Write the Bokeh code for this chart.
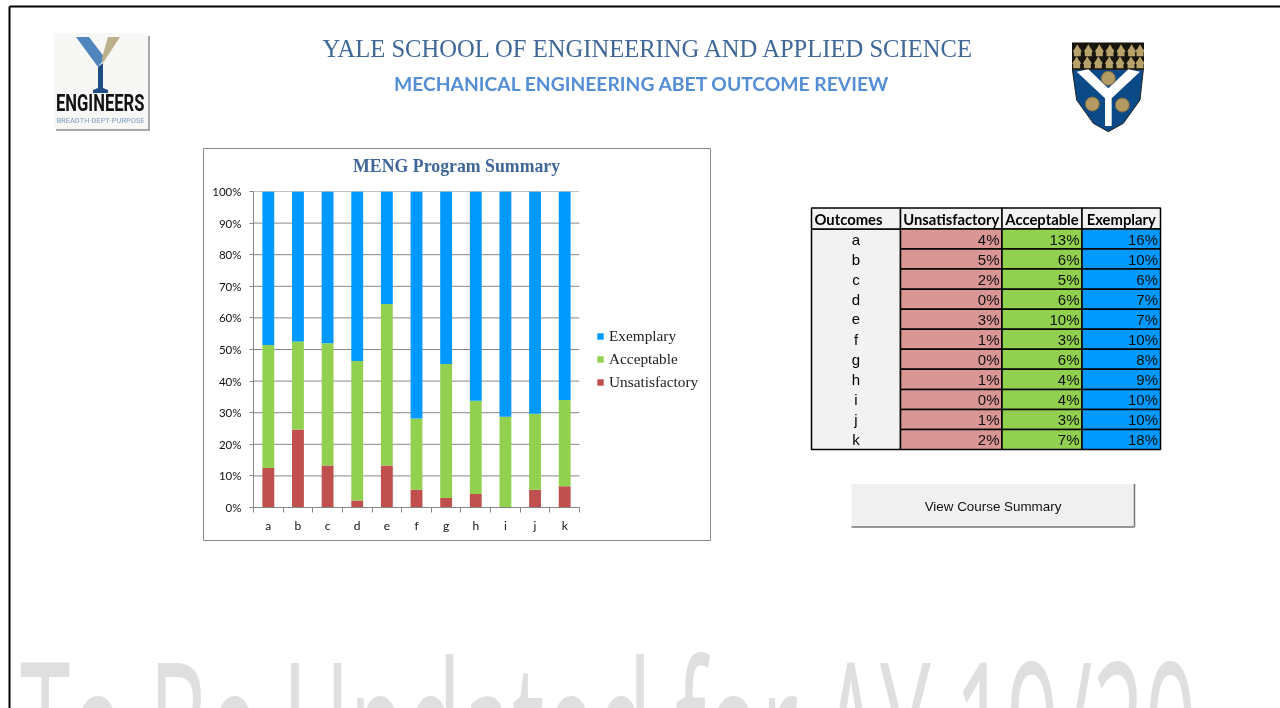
from bokeh.plotting import figure
from bokeh.models import Range1d, LinearAxis, FixedTicker, Legend, LegendItem, Div, ColumnDataSource
from bokeh.core.properties import value
from bokeh.embed import file_html
from bokeh.resources import INLINE

categories = ["a", "b", "c", "d", "e", "f", "g", "h", "i", "j", "k"]
share_unsatisfactory = [12.5, 24.7, 13.3, 2.2, 13.3, 5.6, 3.0, 4.3, 0.0, 5.6, 6.7]
share_acceptable = [38.9, 27.8, 38.7, 44.2, 51.1, 22.6, 42.4, 29.5, 28.7, 24.1, 27.3]
share_exemplary = [48.6, 47.5, 48.0, 53.6, 35.6, 71.8, 54.6, 66.2, 71.3, 70.3, 66.0]
y_ticks = [0, 10, 20, 30, 40, 50, 60, 70, 80, 90, 100]

table_headers = ["Outcomes", "Unsatisfactory", "Acceptable", "Exemplary"]
table_unsat = [4, 5, 2, 0, 3, 1, 0, 1, 0, 1, 2]
table_accept = [13, 6, 5, 6, 10, 3, 6, 4, 4, 3, 7]
table_exemp = [16, 10, 6, 7, 7, 10, 8, 9, 10, 10, 18]

title_main = "YALE SCHOOL OF ENGINEERING AND APPLIED SCIENCE"
title_sub = "MECHANICAL ENGINEERING ABET OUTCOME REVIEW"
chart_title = "MENG Program Summary"
button_text = "View Course Summary"
watermark = "To Be Updated for AY 19/20"

RED, GREEN, BLUE = "#C0504D", "#92D050", "#0099FF"
NAVY = "#3F6797"
GRAY = "#868686"

# ---------- page background figure, in page pixels ----------
bg = figure(width=1280, height=708, x_range=Range1d(0.5, 1280.5), y_range=Range1d(708.5, 0.5),
            output_backend="svg", toolbar_location=None, min_border=0,
            x_axis_location=None, y_axis_location=None, outline_line_color=None,
            styles={"position": "fixed", "left": "0px", "top": "0px"})
bg.grid.visible = False
bg.segment([9.5, 9.5], [6.5, 6.5], [9.5, 1280.5], [708.5, 6.5], line_color="black", line_width=2)


def txt(x, y, s, size, color="black", font="Liberation Sans", style="normal", align="center"):
    bg.text([x], [y], text=[s], text_font=value(font), text_font_size=f"{size}px",
            text_font_style=style, text_color=color, text_align=align, text_baseline="middle")


txt(649, 48, title_main, 24.6, NAVY, "Liberation Serif")
txt(642, 83.5, title_sub, 19.3, "#558ED5", "Lato", "bold")

# chart box
bg.quad([203.5], [710.5], [148.5], [540.5], fill_color="white", line_color=GRAY, line_width=1)

# left logo
bg.quad([56], [150], [36], [131], fill_color="#a8a8a8", line_color=None)
bg.quad([54], [148], [33], [129], fill_color="#f7f7f5", line_color=None)
bg.patch([76, 89, 105, 98], [37, 37, 58, 67], fill_color="#4F86BE", line_color=None)
bg.patch([108, 120, 103, 102], [37, 37, 63, 58], fill_color="#BDB08C", line_color=None)
bg.patch([98, 103, 103, 108, 108, 93, 93, 98], [67, 63, 88, 90, 93, 93, 90, 88], fill_color="#1F4E86", line_color=None)
txt(100.5, 120, "BREADTH·DEPT·PURPOSE", 7.5, "#7D9CC0", "Roboto")

# right shield
def sx(v):
    return [1060 + a / 3 for a in v]
def sy(v):
    return [30 + a / 3 for a in v]

bg.patch(sx([37, 250, 250, 240, 190, 145, 100, 50, 37]), sy([118, 118, 118, 210, 280, 305, 280, 210, 118]),
         fill_color="#0B4A87", line_color="#222222", line_width=1)
bg.quad([1072], [1144], [42.5], [69.5], fill_color="#17130D", line_color=None)
bell_x_top = [52, 85, 118, 150, 183, 215, 240]
bell_x_low = [50, 82, 115, 148, 180, 213, 240]
bg.scatter(sx(bell_x_top), sy([58] * 7), marker="triangle", size=9, fill_color="#B8A26B", line_color=None)
bg.scatter(sx(bell_x_top), sy([68] * 7), marker="square", size=7, fill_color="#B8A26B", line_color=None)
bg.scatter(sx(bell_x_low), sy([94] * 7), marker="triangle", size=9, fill_color="#B8A26B", line_color=None)
bg.scatter(sx(bell_x_low), sy([104] * 7), marker="square", size=7, fill_color="#B8A26B", line_color=None)
bg.patch(sx([50, 85, 145, 205, 240, 155, 155, 135, 135]), sy([125, 118, 175, 118, 125, 205, 288, 288, 205]),
         fill_color="white", line_color=None)
bg.scatter(sx([145, 97, 187]), sy([145, 222, 225]), marker="circle", size=14, fill_color="#B39B63",
           line_color="#7d6c40")

# table
col_x = [811.5, 900.5, 1002, 1082, 1160.5]
head_top, head_bot, row_h = 208, 229, 20.05
n = len(categories)
row_top = [head_bot + i * row_h for i in range(n)]
row_bot = [t + row_h for t in row_top]
row_mid = [(a + b) / 2 for a, b in zip(row_top, row_bot)]
bg.quad([col_x[0]], [col_x[1]], [head_bot], [row_bot[-1]], fill_color="#F2F2F2", line_color="black", line_width=1.5)
for j, h in enumerate(table_headers):
    bg.quad([col_x[j]], [col_x[j + 1]], [head_top], [head_bot], fill_color="#F2F2F2", line_color="black", line_width=1.5)
    if j == 0:
        txt(col_x[0] + 3, 219, h, 14.8, "black", "Lato", "bold", "left")
    else:
        txt((col_x[j] + col_x[j + 1]) / 2, 219, h, 14.8, "black", "Lato", "bold")
bg.text([856] * n, row_mid, text=categories, text_font=value("Liberation Sans"), text_font_size="15px",
        text_align="center", text_baseline="middle", text_color="black")
for j, (vals, colr) in enumerate(zip([table_unsat, table_accept, table_exemp], ["#D99694", GREEN, BLUE]), start=1):
    bg.quad([col_x[j]] * n, [col_x[j + 1]] * n, row_top, row_bot, fill_color=colr, line_color="black", line_width=1.5)
    bg.text([col_x[j + 1] - 2.5] * n, row_mid, text=[f"{v}%" for v in vals],
            text_font=value("Liberation Sans"), text_font_size="15px",
            text_align="right", text_baseline="middle", text_color="#111111")

# button
bg.quad([851.5], [1134.5], [484], [527], fill_color="#F0F0F0", line_color=None)
bg.segment([1134.5, 851.5], [484, 527], [1134.5, 1134.5], [527, 527], line_color="#777777", line_width=1.5)
txt(993, 506.5, button_text, 13.4, "#111111", "Liberation Sans")

# ---------- the stacked chart ----------
xs = [i + 0.5 for i in range(n)]
src = ColumnDataSource(dict(x=xs, Unsatisfactory=share_unsatisfactory, Acceptable=share_acceptable,
                            Exemplary=share_exemplary))
p = figure(frame_width=326, frame_height=316, x_range=Range1d(0, n), y_range=Range1d(0, 100),
           output_backend="svg", toolbar_location=None,
           x_axis_location=None, y_axis_location=None,
           min_border_left=49, min_border_right=131, min_border_top=42, min_border_bottom=32,
           outline_line_color=None, border_fill_alpha=0, background_fill_alpha=0,
           styles={"position": "fixed", "left": "204px", "top": "149px"})
p.grid.visible = False

yax = LinearAxis(ticker=FixedTicker(ticks=y_ticks), axis_line_color=GRAY, major_tick_line_color=GRAY,
                 major_tick_out=4, major_tick_in=0, minor_tick_line_color=None,
                 major_label_overrides={t: f"{t}%" for t in y_ticks},
                 major_label_text_font="Lato", major_label_text_font_size="11.5px",
                 major_label_text_color="#111111", major_label_standoff=8)
xax = LinearAxis(ticker=FixedTicker(ticks=xs, minor_ticks=list(range(n + 1))),
                 axis_line_color=GRAY, major_tick_line_color=None, minor_tick_line_color=GRAY,
                 minor_tick_out=5, minor_tick_in=0,
                 major_label_overrides=dict(zip(xs, categories)),
                 major_label_text_font="Lato", major_label_text_font_size="12px",
                 major_label_text_color="#111111", major_label_standoff=4)
p.add_layout(yax, "left")
p.add_layout(xax, "below")
p.segment(x0=[0] * len(y_ticks), y0=y_ticks, x1=[n] * len(y_ticks), y1=y_ticks, line_color=GRAY, line_width=1)

rs = p.vbar_stack(["Unsatisfactory", "Acceptable", "Exemplary"], x="x", width=0.4, source=src,
                  color=[RED, GREEN, BLUE], line_color=None)

legend = Legend(items=[LegendItem(label="Exemplary", renderers=[rs[2]]),
                       LegendItem(label="Acceptable", renderers=[rs[1]]),
                       LegendItem(label="Unsatisfactory", renderers=[rs[0]])],
                location=(17, 116.5), border_line_color=None, background_fill_alpha=0,
                glyph_width=8, glyph_height=8, label_standoff=5, spacing=5, margin=0, padding=0,
                label_height=18, label_text_font="Liberation Serif", label_text_font_size="15.3px",
                label_text_color="#222222")
p.add_layout(legend, "right")

p.text([n * 0.623], [104.9], text=[chart_title], text_font=value("Liberation Serif"), text_font_size="17.8px",
       text_font_style="bold", text_color=NAVY, text_align="center", text_baseline="bottom")
p.renderers[-1].level = "overlay"

# ---------- stretched watermark, clipped at the window's bottom edge ----------
wm = Div(text=f"<div style=\"position:absolute;left:0;top:0;white-space:nowrap;font-family:'Open Sans';"
              f"font-size:91.3px;line-height:1;color:#DFDFDF;transform-origin:0 0;transform:scaleY(2.14);\">{watermark}</div>",
         width=1260, height=78, margin=0,
         styles={"position": "fixed", "left": "20px", "top": "630px", "overflow": "hidden"})

# condensed wordmark of the left logo
eng = Div(text="<div style=\"position:absolute;left:0;top:0;white-space:nowrap;font-family:Roboto;font-weight:bold;"
               "font-size:16.6px;line-height:1;color:#111111;transform-origin:0 0;transform:scaleY(1.4);\">ENGINEERS</div>",
          width=100, height=30, margin=0,
          styles={"position": "fixed", "left": "56px", "top": "93px"})

open("out.html", "w").write(file_html([bg, wm, eng, p], INLINE))
